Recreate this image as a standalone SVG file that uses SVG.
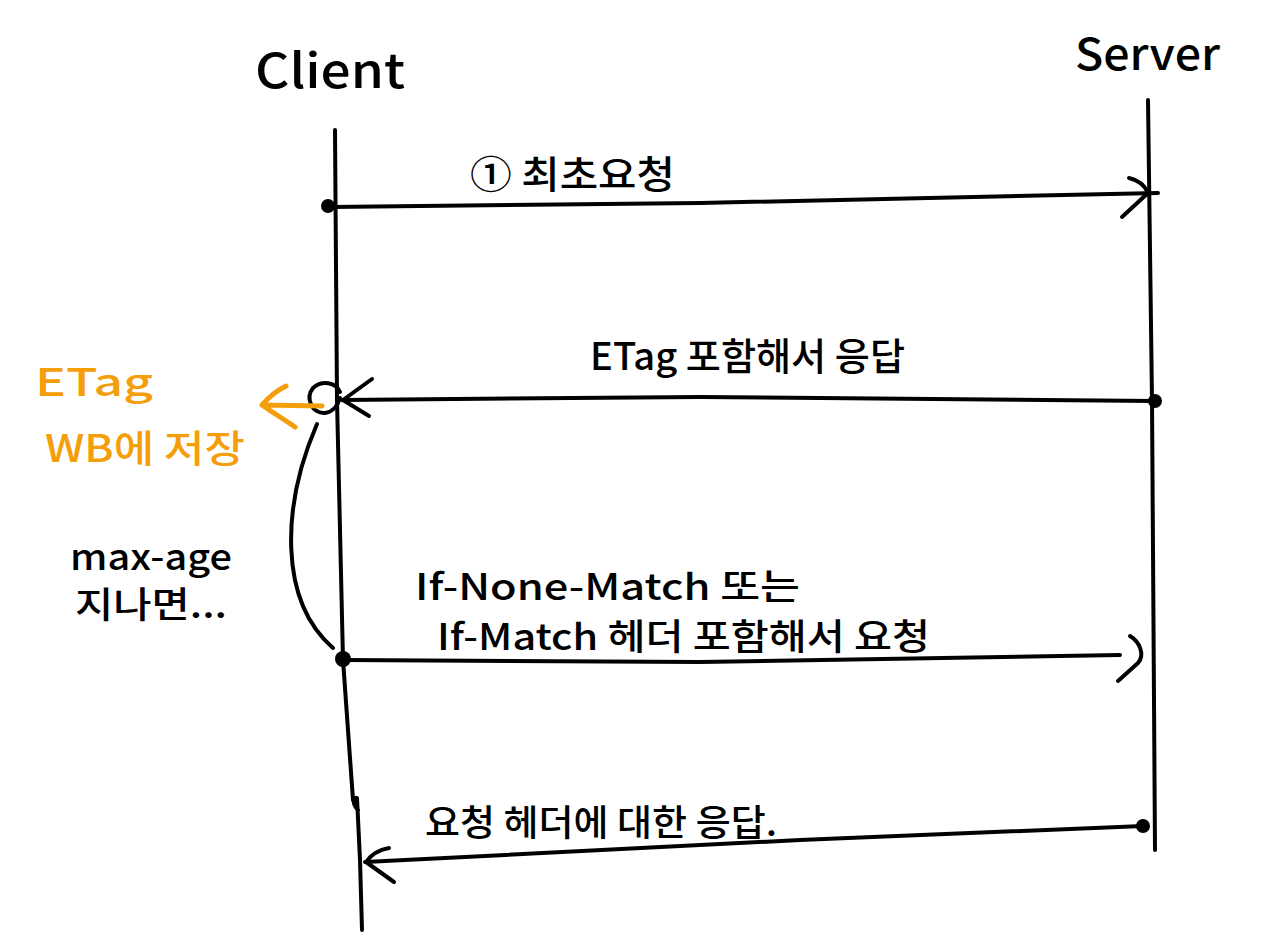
<svg xmlns="http://www.w3.org/2000/svg" width="1261" height="932" viewBox="0 0 1261 932">
<style>
.ln{fill:none;stroke:#000;stroke-width:4;stroke-linecap:round;stroke-linejoin:round}
.or{fill:none;stroke:#F59E0B;stroke-width:5;stroke-linecap:round;stroke-linejoin:round}
.dot{fill:#000}
text{font-family:"Noto Sans CJK KR","Noto Sans",sans-serif;fill:#000;font-weight:500}
.ot{fill:#F59E0B}
</style>
<rect width="1261" height="932" fill="#fff"/>
<g id="client">
<text x="255" y="88" font-size="48" textLength="150" lengthAdjust="spacingAndGlyphs">Client</text>
<path class="ln" d="M335,130 L337,400 L343,660 L353,800"/>
<path class="ln" d="M358,810 C352,804 353,796 357,798 L360,860 L362,930"/>
</g>
<g id="server">
<text x="1075" y="70" font-size="44" textLength="145" lengthAdjust="spacingAndGlyphs">Server</text>
<path class="ln" d="M1148,100 L1152,400 L1155,850"/>
</g>
<g id="note-etag">
<text class="ot" x="35" y="396" font-size="38" textLength="118" lengthAdjust="spacingAndGlyphs">ETag</text>
<text class="ot" x="45" y="462" font-size="38" textLength="200" lengthAdjust="spacingAndGlyphs">WB에 저장</text>
</g>
<g id="note-maxage">
<text x="70" y="570" font-size="36" textLength="162" lengthAdjust="spacingAndGlyphs">max-age</text>
<text x="75" y="618" font-size="36" textLength="152" lengthAdjust="spacingAndGlyphs">지나면...</text>
</g>
<g id="connectors">
<path class="ln" d="M330,207 L700,203 L1158,193"/>
<path class="ln" d="M1129,178 C1138,180 1145,186 1148,193 L1122,217"/>
<circle class="dot" cx="328" cy="206" r="7"/>
<text x="470" y="188" font-size="38" textLength="205" lengthAdjust="spacingAndGlyphs">① 최초요청</text>

<path class="ln" d="M1155,401 L700,397 L342,400"/>
<path class="ln" d="M372,379 L343,400 L369,416"/>
<circle class="dot" cx="1155" cy="401" r="7"/>
<path class="ln" d="M340,392 C336,382 322,380 313,388 C305,398 312,414 325,413 C333,412 338,405 340,398"/>
<path class="or" d="M322,406 L262,405 M286,386 C278,390 268,398 262,405 C272,412 285,420 295,427"/>
<text x="590" y="370" font-size="38" textLength="315" lengthAdjust="spacingAndGlyphs">ETag 포함해서 응답</text>

<path class="ln" d="M317,424 C282,505 278,600 333,648"/>

<path class="ln" d="M343,660 L700,662 L1120,655"/>
<path class="ln" d="M1130,636 C1140,642 1145,655 1138,663 L1118,681"/>
<circle class="dot" cx="343" cy="659" r="8"/>
<text x="415" y="600" font-size="36" textLength="385" lengthAdjust="spacingAndGlyphs">If-None-Match  또는</text>
<text x="437" y="650" font-size="36" textLength="493" lengthAdjust="spacingAndGlyphs">If-Match  헤더 포함해서 요청</text>

<path class="ln" d="M1143,826 L800,840 L365,862"/>
<path class="ln" d="M389,848 C378,850 370,856 366,862 L394,882"/>
<circle class="dot" cx="1143" cy="826" r="7"/>
<text x="425" y="836" font-size="36" textLength="352" lengthAdjust="spacingAndGlyphs">요청 헤더에 대한 응답.</text>
</g>
</svg>
